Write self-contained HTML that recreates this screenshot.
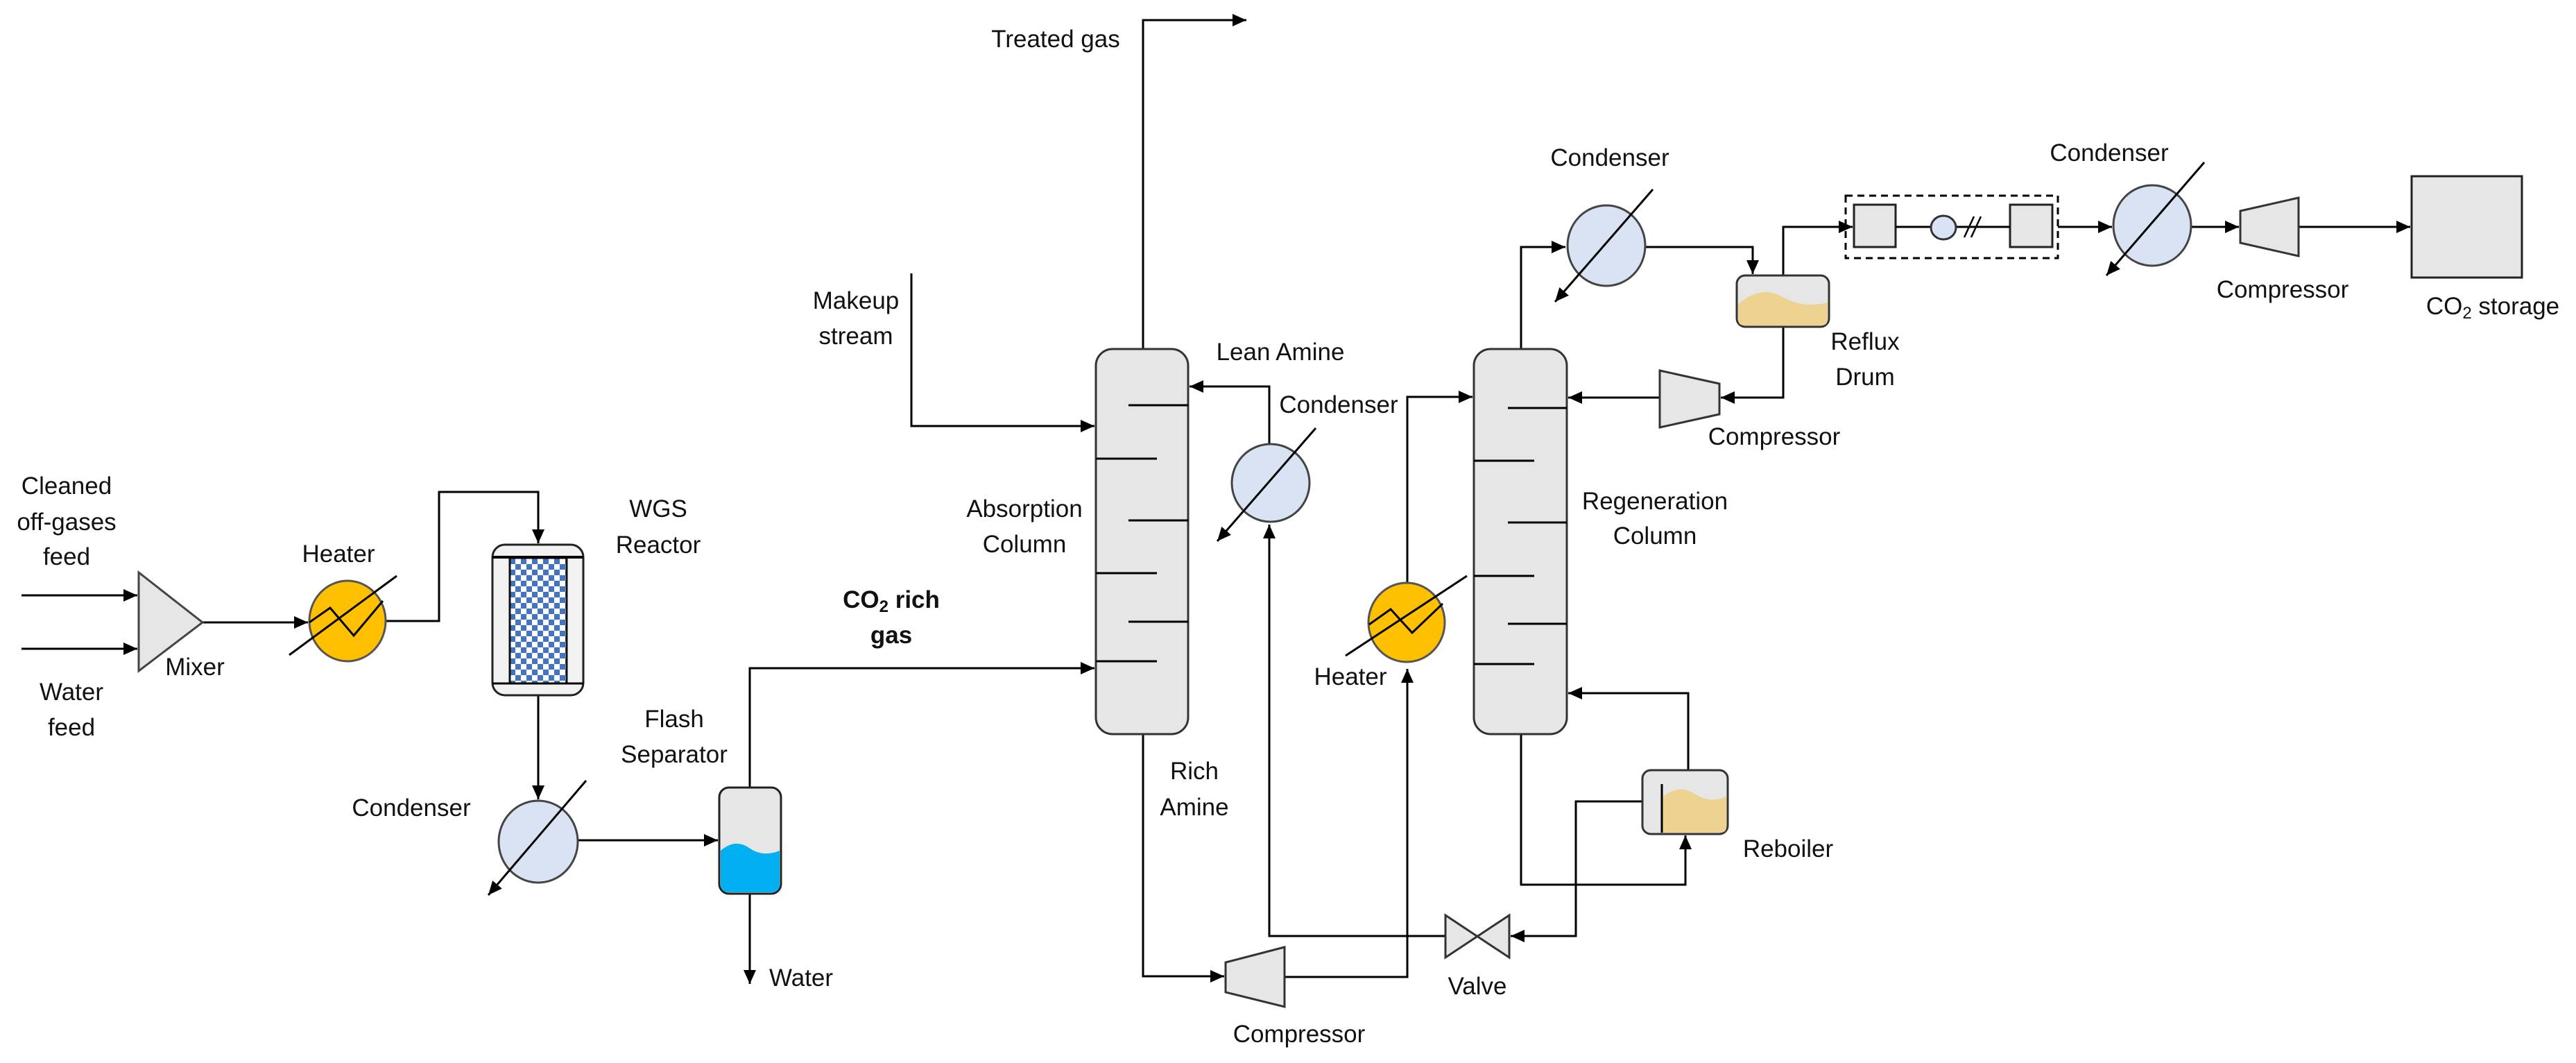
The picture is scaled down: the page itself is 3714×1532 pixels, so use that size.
<!DOCTYPE html>
<html><head><meta charset="utf-8"><style>
html,body{margin:0;padding:0;background:#fff;}
svg{display:block;}
text{font-family:"Liberation Sans",sans-serif;font-size:35px;fill:#111;text-anchor:middle;}
</style></head><body>
<svg width="3714" height="1532" viewBox="0 0 3714 1532" xmlns="http://www.w3.org/2000/svg">
<defs>
<marker id="a" markerUnits="userSpaceOnUse" markerWidth="22" markerHeight="20" refX="20" refY="9" orient="auto"><path d="M0,0 L20,9 L0,18 z" fill="#000"/></marker>
<pattern id="chk" x="735" y="805" width="16" height="16" patternUnits="userSpaceOnUse"><rect width="16" height="16" fill="#fff"/><rect width="8" height="8" fill="#4472C4"/><rect x="8" y="8" width="8" height="8" fill="#4472C4"/></pattern>
</defs>
<g fill="none" stroke="#000" stroke-width="3">
<path d="M31,858 H198" marker-end="url(#a)"/>
<path d="M31,935 H198" marker-end="url(#a)"/>
<path d="M292,897 H444" marker-end="url(#a)"/>
<path d="M556,895 H633 V709 H776 V783" marker-end="url(#a)"/>
<path d="M776,1002 V1152" marker-end="url(#a)"/>
<path d="M834,1211 H1035" marker-end="url(#a)"/>
<path d="M1081,1288 V1418" marker-end="url(#a)"/>
<path d="M1081,1135 V963 H1578" marker-end="url(#a)"/>
<path d="M1648,503 V29 H1797" marker-end="url(#a)"/>
<path d="M1314,394 V614 H1578" marker-end="url(#a)"/>
<path d="M1830,640 V557 H1715" marker-end="url(#a)"/>
<path d="M2084,1349 H1830 V756" marker-end="url(#a)"/>
<path d="M1648,1058 V1407 H1765" marker-end="url(#a)"/>
<path d="M1852,1408 H2029 V964" marker-end="url(#a)"/>
<path d="M2029,840 V572 H2123" marker-end="url(#a)"/>
<path d="M2193,503 V356 H2257" marker-end="url(#a)"/>
<path d="M2373,356 H2527 V395" marker-end="url(#a)"/>
<path d="M2571,471 V573 H2481" marker-end="url(#a)"/>
<path d="M2393,573 H2261" marker-end="url(#a)"/>
<path d="M2571,397 V327 H2671" marker-end="url(#a)"/>
<path d="M2967,327 H3045" marker-end="url(#a)"/>
<path d="M3160,327 H3228" marker-end="url(#a)"/>
<path d="M3314,327 H3475" marker-end="url(#a)"/>
<path d="M2434,1110 V999 H2261" marker-end="url(#a)"/>
<path d="M2368,1155 H2272 V1349 H2178" marker-end="url(#a)"/>
<path d="M2193,1058 V1275 H2430 V1204" marker-end="url(#a)"/>
</g>
<polygon points="200,825 292,897 200,967" fill="#E6E6E6" stroke="#444" stroke-width="3"/>
<ellipse cx="501" cy="895" rx="55" ry="58" fill="#FFC000" stroke="#555" stroke-width="3"/>
<polyline points="446,897 476,876 510,916 552,866" fill="none" stroke="#000" stroke-width="3"/>
<line x1="417" y1="944" x2="572" y2="830" stroke="#000" stroke-width="3"/>
<rect x="710" y="785" width="131" height="217" rx="18" fill="#F2F2F2" stroke="#222" stroke-width="3"/>
<rect x="735" y="804" width="82" height="181" fill="url(#chk)" stroke="#111" stroke-width="3"/>
<line x1="710" y1="803" x2="841" y2="803" stroke="#000" stroke-width="4"/>
<line x1="710" y1="985" x2="841" y2="985" stroke="#000" stroke-width="3"/>
<ellipse cx="776" cy="1213" rx="57" ry="59" fill="#DAE3F3" stroke="#444" stroke-width="3"/>
<line x1="845" y1="1125" x2="704" y2="1290" stroke="#000" stroke-width="3" marker-end="url(#a)"/>
<rect x="1037" y="1135" width="89" height="153" rx="14" fill="#E6E6E6" stroke="#222" stroke-width="3"/>
<path d="M1039,1226 Q1060,1208 1080,1222 Q1100,1236 1124,1226 V1274 Q1124,1286 1112,1286 H1051 Q1039,1286 1039,1274 Z" fill="#00B0F0"/>
<rect x="1580" y="503" width="133" height="555" rx="24" fill="#E6E6E6" stroke="#333" stroke-width="3"/>
<g stroke="#000" stroke-width="3">
<line x1="1627" y1="584" x2="1713" y2="584"/><line x1="1580" y1="661" x2="1668" y2="661"/>
<line x1="1627" y1="750" x2="1713" y2="750"/><line x1="1580" y1="826" x2="1668" y2="826"/>
<line x1="1627" y1="896" x2="1713" y2="896"/><line x1="1580" y1="953" x2="1668" y2="953"/>
</g>
<ellipse cx="1832" cy="696" rx="56" ry="56" fill="#DAE3F3" stroke="#444" stroke-width="3"/>
<line x1="1897" y1="617" x2="1755" y2="780" stroke="#000" stroke-width="3" marker-end="url(#a)"/>
<polygon points="1767,1387 1852,1365 1852,1451 1767,1430" fill="#E6E6E6" stroke="#333" stroke-width="3"/>
<polygon points="2084,1319 2176,1380 2176,1319 2084,1380" fill="#E6E6E6" stroke="#333" stroke-width="3"/>
<ellipse cx="2028" cy="897" rx="55" ry="57" fill="#FFC000" stroke="#555" stroke-width="3"/>
<polyline points="1974,900 2005,878 2036,912 2080,870" fill="none" stroke="#000" stroke-width="3"/>
<line x1="1940" y1="945" x2="2115" y2="830" stroke="#000" stroke-width="3"/>
<rect x="2125" y="503" width="134" height="555" rx="24" fill="#E6E6E6" stroke="#333" stroke-width="3"/>
<g stroke="#000" stroke-width="3">
<line x1="2174" y1="588" x2="2259" y2="588"/><line x1="2125" y1="664" x2="2212" y2="664"/>
<line x1="2174" y1="753" x2="2259" y2="753"/><line x1="2125" y1="830" x2="2212" y2="830"/>
<line x1="2174" y1="899" x2="2259" y2="899"/><line x1="2125" y1="957" x2="2212" y2="957"/>
</g>
<ellipse cx="2316" cy="354" rx="56" ry="58" fill="#DAE3F3" stroke="#444" stroke-width="3"/>
<line x1="2383" y1="273" x2="2242" y2="435" stroke="#000" stroke-width="3" marker-end="url(#a)"/>
<rect x="2504" y="397" width="133" height="74" rx="12" fill="#E6E6E6" stroke="#333" stroke-width="3"/>
<path d="M2506,438 Q2540,410 2570,428 Q2600,445 2635,436 V460 Q2635,469 2626,469 H2515 Q2506,469 2506,460 Z" fill="#EDD38F"/>
<polygon points="2393,534 2479,553 2479,597 2393,616" fill="#E6E6E6" stroke="#333" stroke-width="3"/>
<rect x="2661" y="282" width="306" height="90" fill="none" stroke="#000" stroke-width="3" stroke-dasharray="10,7"/>
<rect x="2673" y="295" width="60" height="61" fill="#E6E6E6" stroke="#222" stroke-width="3"/>
<rect x="2898" y="295" width="61" height="61" fill="#E6E6E6" stroke="#222" stroke-width="3"/>
<line x1="2733" y1="327" x2="2784" y2="327" stroke="#000" stroke-width="3"/>
<line x1="2820" y1="327" x2="2898" y2="327" stroke="#000" stroke-width="3"/>
<ellipse cx="2802" cy="328" rx="18" ry="17" fill="#DAE3F3" stroke="#333" stroke-width="3"/>
<line x1="2832" y1="342" x2="2846" y2="312" stroke="#000" stroke-width="2.5"/>
<line x1="2842" y1="342" x2="2856" y2="312" stroke="#000" stroke-width="2.5"/>
<ellipse cx="3103" cy="325" rx="56" ry="58" fill="#DAE3F3" stroke="#444" stroke-width="3"/>
<line x1="3178" y1="234" x2="3037" y2="397" stroke="#000" stroke-width="3" marker-end="url(#a)"/>
<polygon points="3230,304 3314,285 3314,369 3230,350" fill="#E6E6E6" stroke="#333" stroke-width="3"/>
<rect x="3477" y="254" width="159" height="146" fill="#E6E6E6" stroke="#222" stroke-width="3"/>
<rect x="2368" y="1110" width="123" height="92" rx="12" fill="#E6E6E6" stroke="#333" stroke-width="3"/>
<path d="M2396,1150 Q2420,1128 2445,1145 Q2465,1158 2489,1148 V1192 Q2489,1200 2480,1200 H2396 Z" fill="#EDD38F"/>
<line x1="2396" y1="1130" x2="2396" y2="1200" stroke="#000" stroke-width="3"/>
<text x="96" y="712">Cleaned</text>
<text x="96" y="764">off-gases</text>
<text x="96" y="814">feed</text>
<text x="103" y="1009">Water</text>
<text x="103" y="1060">feed</text>
<text x="281" y="973">Mixer</text>
<text x="488" y="810">Heater</text>
<text x="949" y="745">WGS</text>
<text x="949" y="797">Reactor</text>
<text x="593" y="1176">Condenser</text>
<text x="972" y="1048">Flash</text>
<text x="972" y="1099">Separator</text>
<text x="1109" y="1421" style="text-anchor:start">Water</text>
<text x="1522" y="68">Treated gas</text>
<text x="1234" y="445">Makeup</text>
<text x="1234" y="496">stream</text>
<text x="1477" y="745">Absorption</text>
<text x="1477" y="796">Column</text>
<text x="1285" y="876" style="font-weight:bold">CO<tspan font-size="24" dy="6">2</tspan><tspan dy="-6"> rich</tspan></text>
<text x="1285" y="927" style="font-weight:bold">gas</text>
<text x="1846" y="519">Lean Amine</text>
<text x="1930" y="595">Condenser</text>
<text x="1722" y="1123">Rich</text>
<text x="1722" y="1175">Amine</text>
<text x="1873" y="1502">Compressor</text>
<text x="1947" y="987">Heater</text>
<text x="2130" y="1433">Valve</text>
<text x="2386" y="734">Regeneration</text>
<text x="2386" y="784">Column</text>
<text x="2321" y="239">Condenser</text>
<text x="2689" y="504">Reflux</text>
<text x="2689" y="555">Drum</text>
<text x="2558" y="641">Compressor</text>
<text x="3041" y="232">Condenser</text>
<text x="3291" y="429">Compressor</text>
<text x="3594" y="453">CO<tspan font-size="24" dy="6">2</tspan><tspan dy="-6"> storage</tspan></text>
<text x="2578" y="1235">Reboiler</text>
</svg>
</body></html>
